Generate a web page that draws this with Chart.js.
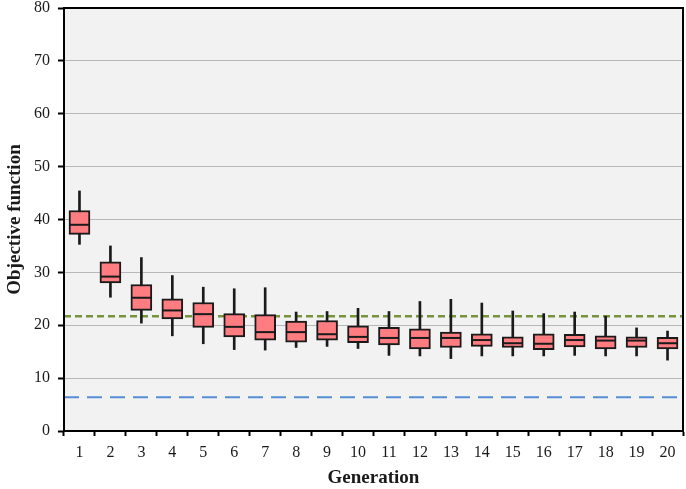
<!DOCTYPE html>
<html>
<head>
<meta charset="utf-8">
<script src="https://cdn.jsdelivr.net/npm/chart.js@4"></script>
<style>
  html, body { margin: 0; padding: 0; background: #fff; }
  #wrap { width: 686px; height: 489px; }
</style>
</head>
<body>
<div id="wrap"><canvas id="chart"></canvas></div>
<script>
// Generations on the x axis
const generations = ['1','2','3','4','5','6','7','8','9','10','11','12','13','14','15','16','17','18','19','20'];

// Box plot statistics per generation
const whiskerLow  = [35.3, 25.3, 20.4, 18.0, 16.5, 15.4, 15.3, 15.8, 16.0, 15.6, 14.3, 14.2, 13.7, 14.2, 14.2, 14.2, 14.3, 14.2, 14.2, 13.4];
const boxLow      = [37.2, 28.0, 22.8, 21.2, 19.6, 17.8, 17.2, 16.8, 17.2, 16.7, 16.3, 15.5, 15.8, 16.0, 15.8, 15.4, 15.9, 15.5, 15.8, 15.5];
const medians     = [39.0, 29.2, 25.2, 22.8, 22.1, 19.7, 18.7, 18.7, 18.3, 17.8, 17.6, 17.6, 17.6, 17.2, 16.6, 16.5, 17.2, 17.1, 17.1, 16.6];
const boxHigh     = [41.7, 32.0, 27.7, 25.0, 24.3, 22.2, 22.0, 20.8, 20.9, 19.9, 19.6, 19.3, 18.7, 18.4, 17.8, 18.4, 18.3, 18.0, 17.8, 17.7];
const whiskerHigh = [45.4, 35.0, 32.8, 29.4, 27.2, 26.9, 27.1, 22.5, 22.6, 23.2, 22.6, 24.5, 24.9, 24.2, 22.7, 22.2, 22.5, 21.7, 19.5, 18.9];

// Horizontal reference levels
const upperRef = 21.7;
const lowerRef = 6.4;

const whiskers = whiskerLow.map((v, i) => [v, whiskerHigh[i]]);
const boxes = boxLow.map((v, i) => [v, boxHigh[i]]);

const serif = "'Liberation Serif', 'Times New Roman', serif";

// plot area background + frame
const frame = {
    id: 'frame',
    beforeDatasetsDraw(chart) {
        const a = chart.chartArea;
        const ctx = chart.ctx;
        ctx.save();
        ctx.globalCompositeOperation = 'destination-over';
        ctx.fillStyle = '#f2f2f2';
        ctx.fillRect(a.left, a.top, a.right - a.left, a.bottom - a.top);
        ctx.restore();
    },
    afterDraw(chart) {
        const a = chart.chartArea;
        const ctx = chart.ctx;
        ctx.save();
        ctx.strokeStyle = '#000';
        ctx.lineWidth = 2;
        ctx.strokeRect(a.left, a.top, a.right - a.left, a.bottom - a.top);
        ctx.restore();
    }
};

new Chart(document.getElementById('chart'), {
    type: 'bar',
    data: {
        labels: generations,
        datasets: [
            {
                type: 'line',
                data: [{ x: 0, y: upperRef }, { x: 1, y: upperRef }],
                xAxisID: 'xRef',
                borderColor: '#77933c',
                borderWidth: 2.5,
                borderDash: [7, 4],
                pointRadius: 0,
                order: 5
            },
            {
                type: 'line',
                data: [{ x: 0, y: lowerRef }, { x: 1, y: lowerRef }],
                xAxisID: 'xRef',
                borderColor: '#558ed5',
                borderWidth: 2,
                borderDash: [15, 8],
                pointRadius: 0,
                order: 5
            },
            {
                data: whiskers,
                backgroundColor: '#1a1a1a',
                borderWidth: 0,
                barThickness: 2,
                grouped: false,
                order: 4
            },
            {
                data: boxes,
                backgroundColor: '#ff7c80',
                borderColor: '#1a1a1a',
                borderWidth: 2,
                borderSkipped: false,
                barThickness: 21,
                grouped: false,
                order: 3
            },
            {
                type: 'line',
                data: medians,
                showLine: false,
                pointStyle: 'line',
                pointRadius: 10,
                pointBorderWidth: 2,
                pointBorderColor: '#1a1a1a',
                borderColor: '#1a1a1a',
                order: 1
            }
        ]
    },
    options: {
        responsive: true,
        maintainAspectRatio: false,
        animation: false,
        events: [],
        layout: { autoPadding: false, padding: { top: 8, right: 3, left: 0, bottom: 0 } },
        plugins: {
            legend: { display: false },
            tooltip: { enabled: false }
        },
        scales: {
            x: {
                type: 'category',
                offset: true,
                grid: {
                    offset: true,
                    drawOnChartArea: false,
                    drawTicks: true,
                    tickLength: 5,
                    tickColor: '#000',
                    tickWidth: 2
                },
                border: { color: '#000', width: 2 },
                ticks: {
                    color: '#1a1a1a',
                    font: { family: serif, size: 16 },
                    padding: 7,
                    maxRotation: 0,
                    autoSkip: false
                },
                title: {
                    display: true,
                    text: 'Generation',
                    color: '#1a1a1a',
                    font: { family: serif, size: 19, weight: 'bold' },
                    padding: { top: 2, bottom: 0 }
                },
                afterFit(scale) {
                    scale.height = 58;
                    scale.paddingLeft = 0;
                    scale.paddingRight = 0;
                }
            },
            xRef: {
                type: 'linear',
                display: false,
                offset: false,
                min: 0,
                max: 1
            },
            y: {
                min: 0,
                max: 80,
                ticks: {
                    stepSize: 10,
                    color: '#1a1a1a',
                    font: { family: serif, size: 16 },
                    padding: 8
                },
                grid: {
                    color: '#b8b8b8',
                    lineWidth: 1,
                    tickColor: '#000',
                    tickWidth: 2,
                    tickLength: 6
                },
                border: { color: '#000', width: 2 },
                title: {
                    display: true,
                    text: 'Objective function',
                    color: '#1a1a1a',
                    font: { family: serif, size: 19, weight: 'bold' },
                    padding: { top: 4, bottom: 0 }
                },
                afterFit(scale) {
                    scale.width = 64;
                    scale.paddingTop = 0;
                    scale.paddingBottom = 0;
                }
            }
        }
    },
    plugins: [frame]
});
</script>
</body>
</html>
